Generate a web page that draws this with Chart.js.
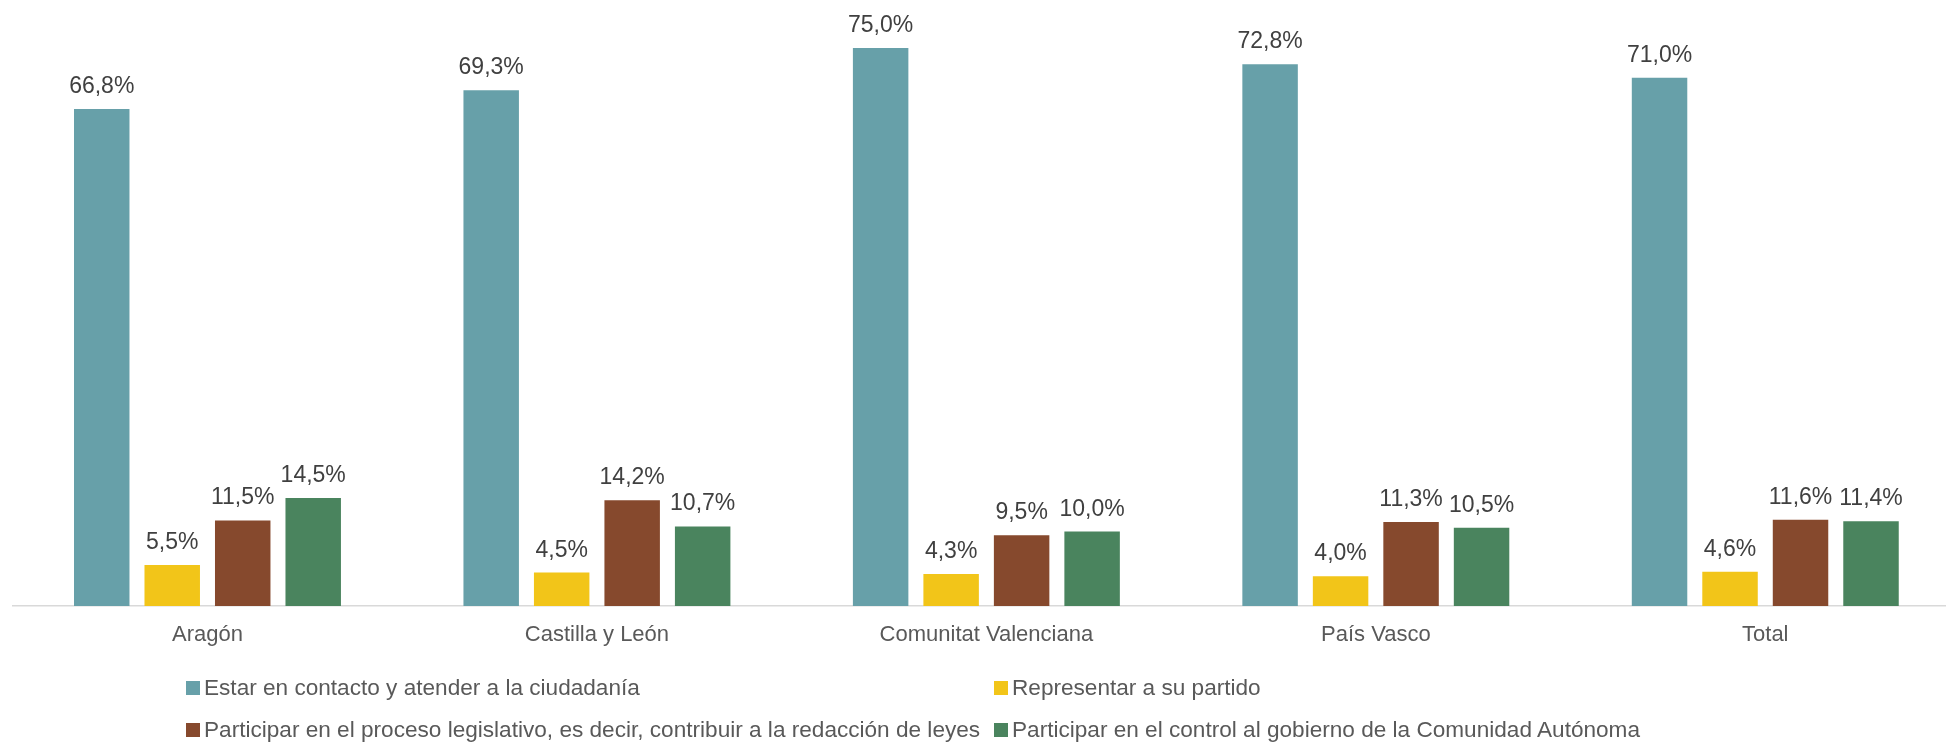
<!DOCTYPE html>
<html>
<head>
<meta charset="utf-8">
<script src="https://cdn.jsdelivr.net/npm/chart.js@4/dist/chart.umd.min.js"></script>
<style>
  html, body { margin:0; padding:0; background:#fff; width:1946px; height:744px; overflow:hidden; }
  #wrap { position:relative; width:1946px; height:744px; overflow:hidden; }
  #c { position:absolute; left:0; top:0; }
  .lg { position:absolute; display:flex; align-items:center; font-family:"Liberation Sans", Arial, sans-serif; font-size:22.6px; color:#595959; white-space:nowrap; height:30px; }
  .lg span.box { display:inline-block; width:14px; height:14px; margin-right:4px; }
</style>
</head>
<body>
<div id="wrap">
  <canvas id="c" width="1962" height="744"></canvas>
</div>
<script>
const categories = ["Aragón", "Castilla y León", "Comunitat Valenciana", "País Vasco", "Total"];
const seriesNames = [
  "Estar en contacto y atender a la ciudadanía",
  "Representar a su partido",
  "Participar en el proceso legislativo, es decir, contribuir a la redacción de leyes",
  "Participar en el control al gobierno de la Comunidad Autónoma"
];
const contacto = [66.8, 69.3, 75.0, 72.8, 71.0];
const partido = [5.5, 4.5, 4.3, 4.0, 4.6];
const legislativo = [11.5, 14.2, 9.5, 11.3, 11.6];
const control = [14.5, 10.7, 10.0, 10.5, 11.4];
const colors = ["#67A0A9", "#F2C519", "#86492D", "#4A845E"];

const seriesValues = [contacto, partido, legislativo, control];

const labelPlugin = {
  id: 'valueLabels',
  afterDatasetsDraw(chart) {
    const ctx = chart.ctx;
    ctx.save();
    ctx.font = '23px "Liberation Sans", Arial, sans-serif';
    ctx.fillStyle = '#404040';
    ctx.textAlign = 'center';
    ctx.textBaseline = 'alphabetic';
    chart.data.datasets.forEach((ds, i) => {
      const meta = chart.getDatasetMeta(i);
      meta.data.forEach((el, j) => {
        const v = ds.data[j];
        const txt = v.toFixed(1).replace('.', ',') + '%';
        ctx.fillText(txt, el.x, el.y - 16);
      });
    });
    ctx.restore();
  }
};

const chart = new Chart(document.getElementById('c'), {
  type: 'bar',
  data: {
    labels: categories,
    datasets: seriesValues.map((vals, i) => ({
      label: seriesNames[i],
      data: vals,
      backgroundColor: colors[i],
      borderWidth: 0,
      categoryPercentage: 0.724,
      barPercentage: 0.787
    }))
  },
  options: {
    responsive: false,
    animation: false,
    devicePixelRatio: 1,
    layout: { padding: { left: 12.75, right: 2, top: 10.7, bottom: 0 } },
    plugins: { legend: { display: false }, tooltip: { enabled: false } },
    scales: {
      x: {
        grid: { display: false, drawTicks: false },
        border: { display: true, color: '#D9D9D9', width: 1.5 },
        ticks: {
          color: '#595959',
          font: { family: '"Liberation Sans", Arial, sans-serif', size: 22 },
          padding: 16,
          maxRotation: 0
        },
        afterFit(scale) { scale.height = 138; }
      },
      y: {
        display: false,
        min: 0,
        max: 80
      }
    }
  },
  plugins: [labelPlugin]
});

// HTML legend built from the chart's datasets, laid out in two aligned columns
const wrap = document.getElementById('wrap');
const colX = [186, 994];
const rowY = [673, 715];
chart.data.datasets.forEach((ds, i) => {
  const d = document.createElement('div');
  d.className = 'lg';
  d.style.left = colX[i % 2] + 'px';
  d.style.top = rowY[Math.floor(i / 2)] + 'px';
  const b = document.createElement('span');
  b.className = 'box';
  b.style.background = ds.backgroundColor;
  const t = document.createElement('span');
  t.textContent = ds.label;
  d.appendChild(b);
  d.appendChild(t);
  wrap.appendChild(d);
});
</script>
</body>
</html>
